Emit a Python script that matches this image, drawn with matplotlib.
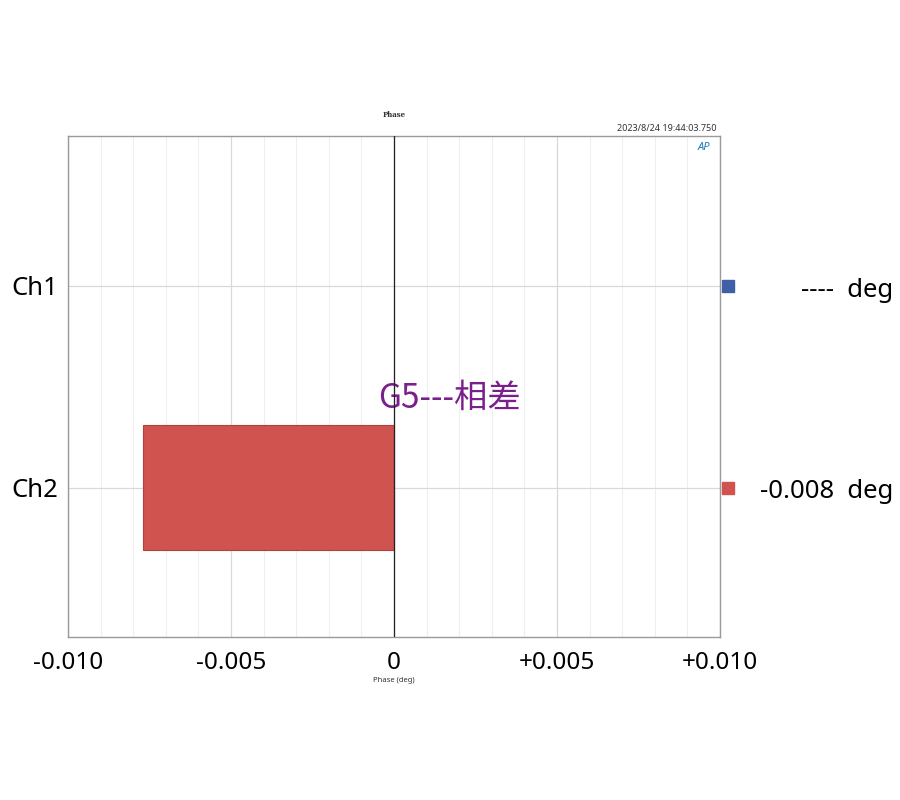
import matplotlib.pyplot as plt
import numpy as np
from matplotlib.ticker import MultipleLocator

channels = ["Ch1", "Ch2"]
phase = [np.nan, -0.0077]
readouts = ["----", "-0.008"]
marker_colors = ["#3F5FA6", "#D0534F"]
x_ticks = [-0.010, -0.005, 0.0, 0.005, 0.010]
x_tick_labels = ["-0.010", "-0.005", "0", "+0.005", "+0.010"]

plt.rcParams['font.family'] = ['Noto Sans', 'Noto Sans CJK SC', 'DejaVu Sans']

fig = plt.figure(figsize=(9, 8), dpi=100)
ax = fig.add_axes([0.0756, 0.204, 0.7244, 0.626])

y = np.arange(len(channels))
ax.barh(y, phase, height=0.62, color="#D0534F", edgecolor="#B4403C",
        linewidth=0.8, zorder=3)
ax.axvline(0, color="#222222", linewidth=0.9, zorder=4)

ax.set_xlim(-0.010, 0.010)
ax.set_ylim(1.738, -0.743)
ax.set_xticks(x_ticks)
ax.set_xticklabels(x_tick_labels, fontsize=17.5)
ax.xaxis.set_minor_locator(MultipleLocator(0.001))
ax.set_yticks(y)
ax.set_yticklabels(channels, fontsize=18.5)
ax.tick_params(axis="both", which="both", length=0)
ax.tick_params(axis="x", pad=10)
ax.tick_params(axis="y", pad=7)

ax.grid(which="major", color="#D8D8D8", linewidth=0.9, zorder=0)
ax.grid(which="minor", axis="x", color="#EFEFEF", linewidth=0.8, zorder=0)
for s in ax.spines.values():
    s.set_color("#9A9A9A")
    s.set_linewidth(1.0)

ax.set_xlabel("Phase (deg)", fontsize=5.5, labelpad=2, color="#333333")
ax.set_title("Phase", fontsize=5, pad=14, fontweight="bold",
             family="DejaVu Serif", color="#333333")
ax.text(0.995, 1.005, "2023/8/24 19:44:03.750", transform=ax.transAxes,
        ha="right", va="bottom", fontsize=6.5, color="#333333")
ax.text(0.975, 0.977, "AP", transform=ax.transAxes, ha="center", va="center",
        fontsize=8, fontweight="bold", style="italic", color="#1A7BC0")

ax.text(0.0017, 0.555, "G5---相差", ha="center", va="center",
        fontsize=24, color="#7B1F8C",
        family=['Noto Sans CJK SC', 'DejaVu Sans'])

for i, (txt, c) in enumerate(zip(readouts, marker_colors)):
    ax.plot([1.0127], [i], marker="s", markersize=8, color=c,
            transform=ax.get_yaxis_transform(), clip_on=False, zorder=5)
    ax.text(1.265, i + 0.02, txt + "  deg", transform=ax.get_yaxis_transform(),
            ha="right", va="center", fontsize=18.5)

fig.savefig("out.png", dpi=100, facecolor="white")
plt.close(fig)
